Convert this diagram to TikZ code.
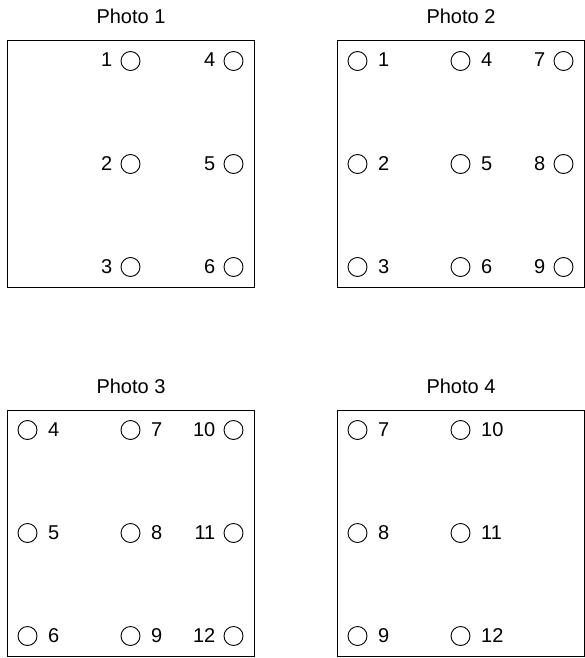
\documentclass[tikz,border=0pt]{standalone}
\usepackage{fontspec}
\setmainfont{Liberation Sans}
\begin{document}
\begin{tikzpicture}[x=1pt,y=-1pt,
  box/.style={draw,line width=1pt,minimum width=247pt,minimum height=246pt,inner sep=0pt,outer sep=0pt,anchor=north west},
  spot/.style={draw,circle,minimum size=19pt,inner sep=0pt,line width=0.9pt},
  lab/.style={inner sep=0pt,font=\fontsize{20}{24}\selectfont},
  ttl/.style={inner sep=0pt,anchor=base,font=\fontsize{20}{24}\selectfont}]
\useasboundingbox (0,0) rectangle (585,658);
% boxes
\node[box] (b1) at (7.5,41) {};
\node[box] (b2) at (337.5,41) {};
\node[box] (b3) at (7.5,410) {};
\node[box] (b4) at (337.5,410) {};
% titles
\node[ttl] (t1) at ([yshift=17pt]b1.north) {Photo 1};
\node[ttl] (t2) at ([yshift=17pt]b2.north) {Photo 2};
\node[ttl] (t3) at ([yshift=17pt]b3.north) {Photo 3};
\node[ttl] (t4) at ([yshift=17pt]b4.north) {Photo 4};
% Photo 1
\foreach \n/\c/\r in {1/1/0,2/1/1,3/1/2,4/2/0,5/2/1,6/2/2}{
  \node[spot] (a\n) at ({7.5+20+103*\c},{41+20+103*\r}) {};
  \node[lab,anchor=base east] (la\n) at ([xshift=-8pt,yshift=-6pt]a\n.center) [xshift=-10pt] {\n};
}
% Photo 2
\foreach \n/\c/\r in {1/0/0,2/0/1,3/0/2,4/1/0,5/1/1,6/1/2}{
  \node[spot] (b\n) at ({337.5+20+103*\c},{41+20+103*\r}) {};
  \node[lab,anchor=base west] (lb\n) at ([xshift=10.5pt,yshift=-6pt]b\n.east) {\n};
}
\foreach \n/\c/\r in {7/2/0,8/2/1,9/2/2}{
  \node[spot] (b\n) at ({337.5+20+103*\c},{41+20+103*\r}) {};
  \node[lab,anchor=base east] (lb\n) at ([xshift=-8pt,yshift=-6pt]b\n.west) {\n};
}
% Photo 3
\foreach \n/\c/\r in {4/0/0,5/0/1,6/0/2,7/1/0,8/1/1,9/1/2}{
  \node[spot] (c\n) at ({7.5+20+103*\c},{410+20+103*\r}) {};
  \node[lab,anchor=base west] (lc\n) at ([xshift=10.5pt,yshift=-6pt]c\n.east) {\n};
}
\foreach \n/\c/\r in {10/2/0,11/2/1,12/2/2}{
  \node[spot] (c\n) at ({7.5+20+103*\c},{410+20+103*\r}) {};
  \node[lab,anchor=base east] (lc\n) at ([xshift=-8pt,yshift=-6pt]c\n.west) {\n};
}
% Photo 4
\foreach \n/\c/\r in {7/0/0,8/0/1,9/0/2,10/1/0,11/1/1,12/1/2}{
  \node[spot] (d\n) at ({337.5+20+103*\c},{410+20+103*\r}) {};
  \node[lab,anchor=base west] (ld\n) at ([xshift=10.5pt,yshift=-6pt]d\n.east) {\n};
}
\end{tikzpicture}
\end{document}
